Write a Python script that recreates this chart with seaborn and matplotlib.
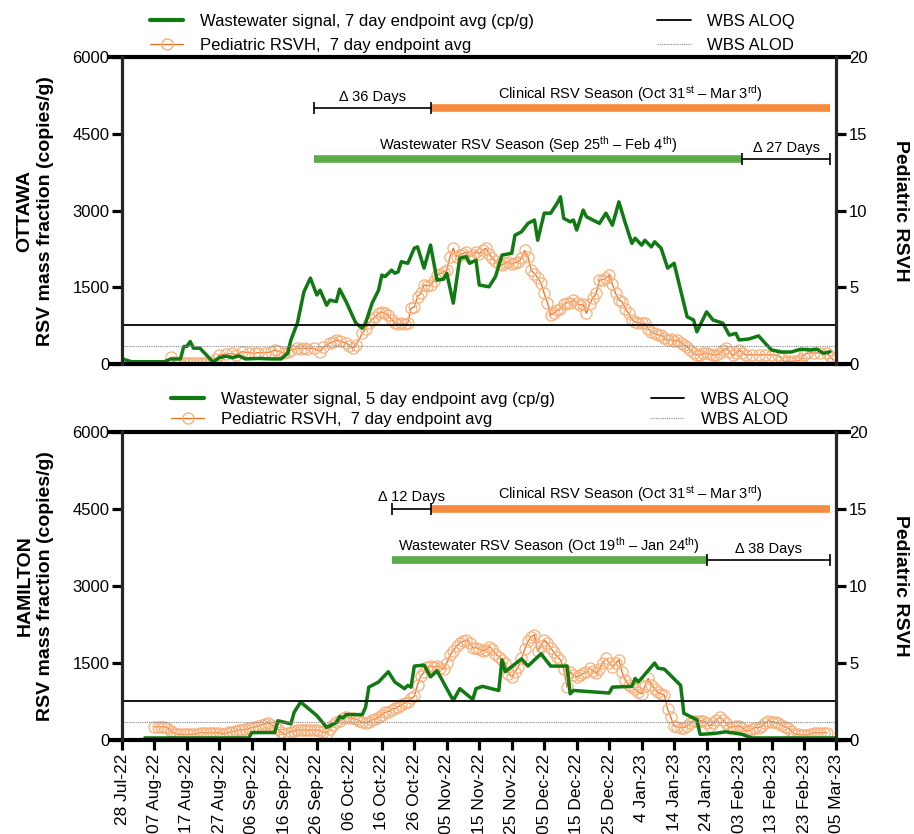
import numpy as np
import pandas as pd
import seaborn as sns
import matplotlib.pyplot as plt
from matplotlib.lines import Line2D

# ---- data (days since 28 Jul 2022) ----
START = pd.Timestamp("2022-07-28")

ott_ww_day = [0, 3, 13, 15, 18, 19, 20, 21, 22, 24, 26, 28, 30, 32, 34, 36, 38, 42, 46, 49, 51, 52,
              54, 56, 58, 60, 61, 63, 64, 66, 67, 69, 72, 74, 75, 77, 79, 80, 81, 83, 84, 85, 86, 88,
              90, 91, 93, 95, 97, 99, 100, 102, 104, 106, 107, 109, 110, 113, 115, 117, 120, 121, 123,
              125, 127, 128, 130, 132, 134, 135, 136, 138, 139, 140, 142, 143, 147, 149, 151, 153, 155,
              157, 158, 160, 161, 163, 164, 166, 168, 170, 172, 174, 176, 177, 180, 182, 185, 187, 189,
              190, 193, 196, 198, 200, 203, 206, 209, 212, 214, 216, 218]
ott_ww_val = [100, 45, 45, 100, 100, 340, 350, 440, 310, 310, 175, 40, 125, 155, 125, 160, 100, 110, 100,
              100, 210, 470, 800, 1410, 1680, 1350, 1445, 1150, 1250, 1220, 1465, 1220, 800, 700, 800,
              1190, 1445, 1740, 1710, 1835, 1775, 1800, 2000, 1970, 2265, 2290, 1875, 2325, 1640, 1660,
              1775, 1190, 2070, 2100, 1970, 2030, 1545, 1510, 1710, 2130, 2165, 2520, 2585, 2750, 2815,
              2420, 2950, 2950, 3145, 3270, 2850, 2780, 2815, 2620, 3010, 2880, 2750, 2950, 2715, 3170,
              2750, 2360, 2460, 2325, 2420, 2290, 2390, 2265, 1875, 1970, 1445, 925, 860, 630, 1020, 860,
              800, 565, 600, 470, 490, 550, 410, 275, 235, 235, 290, 275, 290, 210, 240]

ott_rsv_day = list(range(15, 31)) + [32, 34, 35, 37, 39, 41, 42, 44, 46, 47, 48, 50, 51, 52, 54, 55, 56,
              57, 59, 61, 62, 64, 65, 66, 67, 69, 70, 71, 72] + list(range(74, 193)) + \
              [194, 196, 198, 200, 202, 203, 204, 205, 206, 207, 208, 209, 210, 211, 213, 215, 217, 218, 219]
ott_rsv_val = [0.45, 0.15, 0.05, 0.05, 0.1, 0.05, 0.05, 0.1, 0.05, 0.05, 0.1, 0.05, 0.05, 0.1, 0.3, 0.6,
               0.65, 0.7, 0.6, 0.8, 0.75, 0.7, 0.75, 0.73, 0.8, 0.9, 0.85, 0.7, 0.8, 0.9, 1.04, 1.0, 1.04,
               1.0, 1.04, 0.8, 1.1, 1.37, 1.45, 1.56, 1.5, 1.37, 1.2, 1.04, 1.24,
               2.0, 2.3, 2.67, 2.9, 3.08, 3.3, 3.4, 3.3, 3.2, 2.9, 2.67, 2.6, 2.65, 2.6, 2.67, 3.64, 3.7,
               4.4, 4.6, 5.15, 5.1, 5.15, 5.4, 5.8, 5.9, 6.0, 6.1, 7.0, 7.55, 7.0, 7.1, 7.2, 7.3, 7.0, 7.1,
               7.3, 7.2, 7.4, 7.55, 7.2, 6.9, 6.7, 6.5, 6.45, 6.6, 6.66, 6.5, 6.6, 6.66, 6.9, 7.4, 7.0, 6.1,
               5.9, 5.6, 5.3, 4.6, 4.0, 3.2, 3.3, 3.5, 3.6, 3.9, 4.0, 4.0, 4.17, 4.0, 3.84, 3.9, 3.3, 3.9,
               4.3, 4.6, 5.47, 5.5, 5.6, 5.8, 5.2, 4.6, 4.2, 4.05, 3.6, 3.3, 2.9, 2.75, 2.7, 2.65, 2.67,
               2.3, 2.1, 2.0, 1.9, 1.89, 1.7, 1.56, 1.6, 1.5, 1.56, 1.4, 1.25, 1.13, 0.9, 0.7, 0.59, 0.6,
               0.7, 0.72, 0.65, 0.6, 0.59, 0.7, 0.9, 1.04, 0.8, 0.59, 0.7, 0.9, 0.75, 0.59,
               0.6, 0.59, 0.6, 0.59, 0.59, 0.4, 0.15, 0.2, 0.15, 0.2, 0.2, 0.3, 0.6, 0.72, 0.72, 0.72,
               0.72, 0.5, 0.26]

ham_ww_day = [7, 39, 40, 47, 48, 52, 53, 55, 60, 63, 66, 67, 68, 69, 74, 75, 76, 79, 82, 84, 87, 88, 89,
              90, 93, 95, 97, 102, 104, 108, 109, 111, 116, 117, 118, 123, 125, 129, 132, 137, 138, 139,
              150, 151, 157, 158, 159, 164, 165, 167, 172, 173, 177, 178, 182, 186, 191, 194, 220]
ham_ww_val = [40, 40, 145, 145, 375, 315, 540, 740, 475, 245, 340, 455, 430, 495, 495, 640, 1030, 1130,
              1330, 1130, 1000, 1065, 1030, 1440, 1460, 1230, 1350, 770, 1000, 790, 1000, 1045, 965, 1560,
              1330, 1580, 1440, 1680, 1440, 1440, 900, 965, 915, 1030, 1045, 1200, 1130, 1500, 1400, 1380,
              1065, 520, 395, 110, 125, 160, 110, 40, 40]

ham_rsv_day = list(range(10, 218))
ham_rsv_val = [0.86, 0.86, 0.86, 0.86, 0.8, 0.6, 0.45, 0.37, 0.37, 0.37, 0.37, 0.37, 0.37, 0.4, 0.48,
               0.48, 0.48, 0.48, 0.48, 0.48, 0.48, 0.37, 0.45, 0.5, 0.55, 0.6, 0.66, 0.66, 0.7, 0.75, 0.8,
               0.86, 0.9, 1.0, 1.05, 1.1, 1.0, 0.86, 0.7, 0.5, 0.37, 0.45, 0.55, 0.6, 0.66, 0.66, 0.66,
               0.62, 0.66, 0.66, 0.66, 0.6, 0.5, 0.48, 0.7, 1.0, 1.2, 1.25, 1.4, 1.51, 1.45, 1.4, 1.36,
               1.25, 1.15, 1.1, 1.2, 1.3, 1.36, 1.5, 1.65, 1.8, 1.85, 1.95, 2.05, 2.17, 2.25, 2.4, 2.5,
               2.7, 2.83, 3.6, 4.15, 4.4, 4.74, 4.8, 4.75, 4.8, 4.7, 4.6, 5.0, 5.5, 5.8, 6.1, 6.3, 6.4,
               6.5, 6.3, 6.0, 6.0, 5.9, 5.8, 5.85, 6.07, 5.9, 5.6, 5.4, 5.2, 5.0, 4.3, 4.1, 4.4, 4.76,
               5.3, 5.9, 6.4, 6.7, 6.84, 5.75, 6.1, 6.5, 6.3, 5.97, 5.7, 5.4, 5.2, 4.6, 3.44, 4.43, 4.2,
               4.1, 4.2, 4.32, 4.4, 4.67, 4.5, 4.32, 4.6, 5.0, 5.3, 5.0, 4.76, 5.0, 5.2, 4.4, 3.88, 3.6,
               3.44, 3.3, 3.1, 3.0, 3.5, 4.0, 3.6, 3.33, 3.1, 3.0, 2.9, 2.0, 1.47, 0.92, 0.85, 0.8, 0.81,
               0.9, 1.1, 1.25, 1.25, 1.25, 1.25, 1.1, 0.92, 1.1, 1.3, 1.47, 1.3, 1.1, 0.81, 0.85, 0.9,
               0.92, 0.8, 0.6, 0.59, 0.7, 0.81, 0.8, 0.9, 1.1, 1.25, 1.2, 1.14, 1.1, 1.0, 0.85, 0.81, 0.6,
               0.4, 0.37, 0.35, 0.33, 0.33, 0.4, 0.48, 0.48, 0.48, 0.48, 0.48]

aloq = 760
alod = 360

tick_days = list(range(0, 221, 10))
tick_labels = ["28 Jul-22", "07 Aug-22", "17 Aug-22", "27 Aug-22", "06 Sep-22", "16 Sep-22",
               "26 Sep-22", "06 Oct-22", "16 Oct-22", "26 Oct-22", "05 Nov-22", "15 Nov-22",
               "25 Nov-22", "05 Dec-22", "15 Dec-22", "25 Dec-22", "4 Jan-23", "14 Jan-23",
               "24 Jan-23", "03 Feb-23", "13 Feb-23", "23 Feb-23", "05 Mar-23"]

clin_season = ("2022-10-31", "2023-03-03")
ott_ww_season = ("2022-09-25", "2023-02-04")
ham_ww_season = ("2022-10-19", "2023-01-24")

# ---- style ----
sns.set_style("white")
plt.rcParams["font.family"] = ["Liberation Sans", "DejaVu Sans"]
plt.rcParams["mathtext.fontset"] = "custom"
plt.rcParams["mathtext.rm"] = "Liberation Sans"
plt.rcParams["mathtext.it"] = "Liberation Sans:italic"
plt.rcParams["mathtext.bf"] = "Liberation Sans:bold"
for key in ("text.color", "axes.labelcolor", "xtick.color", "ytick.color"):
    plt.rcParams[key] = "black"

GREEN = "#0f7a12"
ORANGE = "#f26a1b"
ORANGE_MK = "#f8b07a"
BAR_ORANGE = "#f68a3e"
BAR_GREEN = "#5aab4a"


def day(s):
    return (pd.Timestamp(s) - START).days


def bracket(ax, d0, d1, y, label):
    ax.plot([d0, d1], [y, y], color="k", lw=1.2)
    ax.plot([d0, d1], [y, y], ls="none", marker="|", ms=9, mew=1.2, color="k")
    ax.text((d0 + d1) / 2, y + 90, label, ha="center", va="bottom", fontsize=10.5)


def season_bar(ax, d0, d1, y, color, label):
    ax.plot([d0, d1], [y, y], color=color, lw=5.5, solid_capstyle="butt")
    ax.text((d0 + d1) / 2, y + 90, label, ha="center", va="bottom", fontsize=10.5)


def panel(ax, ww_day, ww_val, rsv_day, rsv_val, city, show_x):
    ax2 = ax.twinx()
    sns.lineplot(x=rsv_day, y=rsv_val, ax=ax2, color=ORANGE, lw=0.9, marker="o", ms=8,
                 mfc="none", mec=ORANGE_MK, mew=0.9)
    sns.lineplot(x=ww_day, y=ww_val, ax=ax, color=GREEN, lw=2.5)
    ax.set_zorder(ax2.get_zorder() + 1)
    ax.patch.set_visible(False)

    ax.axhline(aloq, color="k", lw=1.3)
    ax.axhline(alod, color="#888888", lw=0.8, ls=(0, (1, 1)))

    ax.set_xlim(0, 220)
    ax.set_ylim(0, 6000)
    ax2.set_ylim(0, 20)
    ax.set_yticks([0, 1500, 3000, 4500, 6000])
    ax2.set_yticks([0, 5, 10, 15, 20])

    for a in (ax, ax2):
        for s in a.spines.values():
            s.set_visible(False)
    ax.spines["left"].set_visible(True)
    ax.spines["left"].set_linewidth(2.3)
    ax.spines["right"].set_visible(True)
    ax.spines["right"].set_linewidth(2.3)
    for yy in (0, 1):
        ax.plot([-0.02, 1.021], [yy, yy], transform=ax.transAxes, color="k", lw=3,
                clip_on=False, solid_capstyle="butt")

    ax.tick_params(axis="y", direction="out", length=7, width=2.3, labelsize=12, pad=2, left=True)
    ax2.tick_params(axis="y", direction="out", length=7, width=2.3, labelsize=12, pad=2, right=True)
    if show_x:
        ax.set_xticks(tick_days)
        ax.set_xticklabels(tick_labels, rotation=90, fontsize=12.5)
        ax.tick_params(axis="x", direction="out", length=7, width=2.3, bottom=True, pad=3)
    else:
        ax.tick_params(axis="x", bottom=False, labelbottom=False)
    ax.set_xlabel("")
    ax.set_ylabel(f"{city}\nRSV mass fraction (copies/g)", fontsize=14, fontweight="bold",
                  labelpad=13, linespacing=1.3)
    ax2.set_ylabel("Pediatric RSVH", fontsize=14, fontweight="bold", rotation=270, labelpad=30)
    return ax2


def legend(ax, ww_text, pos, spacing):
    h1 = [Line2D([], [], color=GREEN, lw=3),
          Line2D([], [], color=ORANGE, lw=0.9, marker="o", ms=8, mfc="none", mec=ORANGE_MK)]
    h2 = [Line2D([], [], color="k", lw=1.3),
          Line2D([], [], color="#888888", lw=0.8, ls=(0, (1, 1)))]
    kw = dict(frameon=False, fontsize=12, loc="upper left", borderpad=0, labelspacing=spacing,
              handlelength=2.0, handletextpad=1.0, bbox_transform=ax.figure.transFigure)
    leg1 = ax.legend(h1, [ww_text, "Pediatric RSVH,  7 day endpoint avg"],
                     bbox_to_anchor=(pos[0], pos[2]), **kw)
    ax.add_artist(leg1)
    ax.legend(h2, ["WBS ALOQ", "WBS ALOD"], bbox_to_anchor=(pos[1], pos[2]), **kw)


fig = plt.figure(figsize=(9.14, 8.34), dpi=100)
ax_top = fig.add_axes([0.1335, 0.5635, 0.7817, 0.368])
ax_bot = fig.add_axes([0.1335, 0.1127, 0.7817, 0.3693])

panel(ax_top, ott_ww_day, ott_ww_val, ott_rsv_day, ott_rsv_val, "OTTAWA", False)
panel(ax_bot, ham_ww_day, ham_ww_val, ham_rsv_day, ham_rsv_val, "HAMILTON", True)

# season annotations
cs, ce = day(clin_season[0]), day(clin_season[1])
ws, we = day(ott_ww_season[0]), day(ott_ww_season[1])
season_bar(ax_top, cs, ce, 5000, BAR_ORANGE,
           r"Clinical RSV Season (Oct 31$^{\mathrm{st}}$ – Mar 3$^{\mathrm{rd}}$)")
bracket(ax_top, ws, cs, 5000, f"Δ {cs - ws} Days")
season_bar(ax_top, ws, we, 4000, BAR_GREEN,
           r"Wastewater RSV Season (Sep 25$^{\mathrm{th}}$ – Feb 4$^{\mathrm{th}}$)")
bracket(ax_top, we, ce, 4000, f"Δ {ce - we} Days")

hs, he = day(ham_ww_season[0]), day(ham_ww_season[1])
season_bar(ax_bot, cs, ce, 4500, BAR_ORANGE,
           r"Clinical RSV Season (Oct 31$^{\mathrm{st}}$ – Mar 3$^{\mathrm{rd}}$)")
bracket(ax_bot, hs, cs, 4500, f"Δ {cs - hs} Days")
season_bar(ax_bot, hs, he, 3500, BAR_GREEN,
           r"Wastewater RSV Season (Oct 19$^{\mathrm{th}}$ – Jan 24$^{\mathrm{th}}$)")
bracket(ax_bot, he, ce, 3500, f"Δ {ce - he} Days")

legend(ax_top, "Wastewater signal, 7 day endpoint avg (cp/g)", (0.155, 0.71, 0.993), 0.5)
legend(ax_bot, "Wastewater signal, 5 day endpoint avg (cp/g)", (0.178, 0.703, 0.54), 0.3)

fig.savefig("out.png", dpi=100)
